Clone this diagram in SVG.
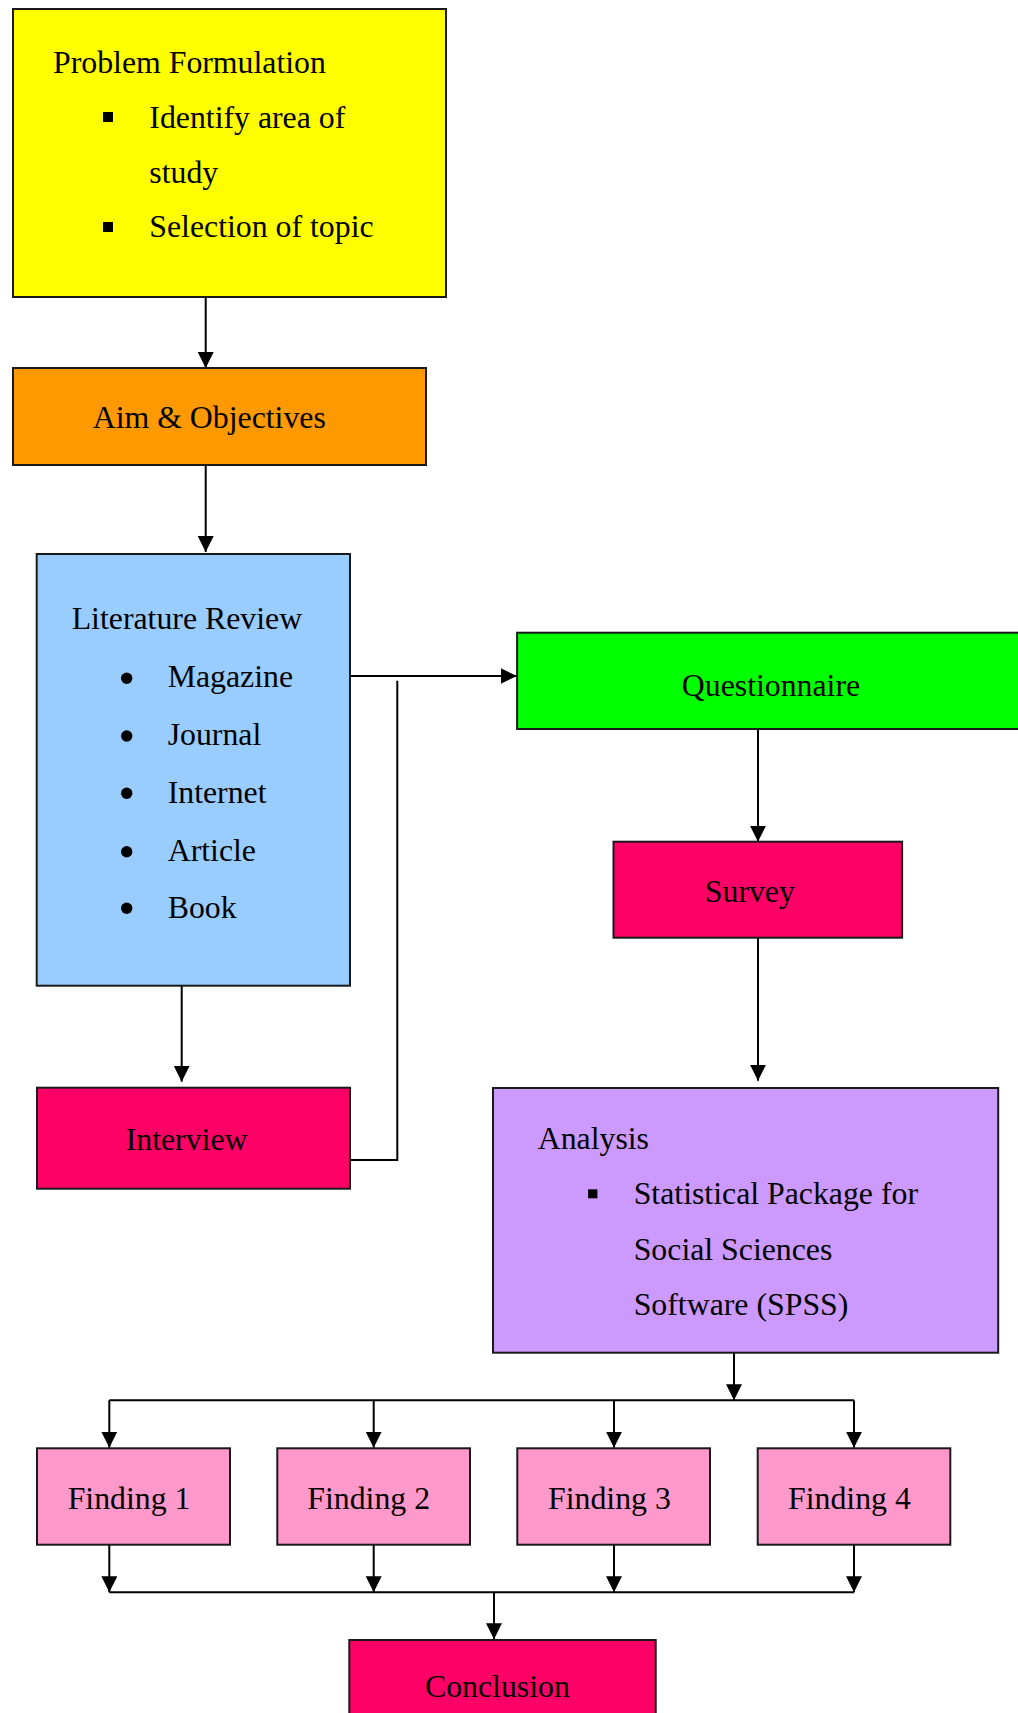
<svg xmlns="http://www.w3.org/2000/svg" width="1018" height="1713" viewBox="0 0 1018 1713">
<defs>
<style>
.box{stroke:#1a1a1a;stroke-width:2}
.t{font-family:"Liberation Serif","Times New Roman",serif;font-size:31.8px;fill:#000}
.c{fill:none;stroke:#000;stroke-width:2}
</style>
<marker id="ah" markerUnits="userSpaceOnUse" markerWidth="18" markerHeight="18" refX="16" refY="8" orient="auto">
<path d="M0,0 L16,8 L0,16 z" fill="#000"/>
</marker>
</defs>
<rect width="1018" height="1713" fill="#fff"/>

<g id="connectors">
<path class="c" d="M205.7,297 V368" marker-end="url(#ah)"/>
<path class="c" d="M205.7,465 V552" marker-end="url(#ah)"/>
<path class="c" d="M350,676 H516.7" marker-end="url(#ah)"/>
<path class="c" d="M350,1160 H397.3 V680.7"/>
<path class="c" d="M181.7,985.7 V1081.7" marker-end="url(#ah)"/>
<path class="c" d="M758,723.3 V841.7" marker-end="url(#ah)"/>
<path class="c" d="M758,937.7 V1080.7" marker-end="url(#ah)"/>
<path class="c" d="M734,1352.7 V1400.3" marker-end="url(#ah)"/>
<path class="c" d="M109.3,1400.3 H854"/>
<path class="c" d="M109.3,1400.3 V1447.7" marker-end="url(#ah)"/>
<path class="c" d="M373.7,1400.3 V1447.7" marker-end="url(#ah)"/>
<path class="c" d="M614,1400.3 V1447.7" marker-end="url(#ah)"/>
<path class="c" d="M854,1400.3 V1447.7" marker-end="url(#ah)"/>
<path class="c" d="M109.3,1544.7 V1592.3" marker-end="url(#ah)"/>
<path class="c" d="M373.7,1544.7 V1592.3" marker-end="url(#ah)"/>
<path class="c" d="M614,1544.7 V1592.3" marker-end="url(#ah)"/>
<path class="c" d="M854,1544.7 V1592.3" marker-end="url(#ah)"/>
<path class="c" d="M109.3,1592.3 H854"/>
<path class="c" d="M494,1592.3 V1639.3" marker-end="url(#ah)"/>
</g>

<g id="problem-formulation">
<rect class="box" x="13" y="9" width="433" height="288" fill="#ffff00"/>
<text class="t" x="53" y="72.7">Problem Formulation</text>
<rect x="103" y="112" width="10" height="10" fill="#000"/>
<text class="t" x="149.3" y="128">Identify area of</text>
<text class="t" x="149.3" y="182.7">study</text>
<rect x="103" y="222" width="10" height="10" fill="#000"/>
<text class="t" x="149.3" y="237">Selection of topic</text>
</g>

<g id="aim-objectives">
<rect class="box" x="13" y="368" width="413" height="97" fill="#ff9900"/>
<text class="t" x="92.7" y="428.3">Aim &amp; Objectives</text>
</g>

<g id="literature-review">
<rect class="box" x="36.7" y="554" width="313.3" height="431.7" fill="#99ccff"/>
<text class="t" x="71.7" y="629.3">Literature Review</text>
<circle cx="126.7" cy="678.3" r="5.7" fill="#000"/>
<text class="t" x="167.7" y="686.7">Magazine</text>
<circle cx="126.7" cy="736" r="5.7" fill="#000"/>
<text class="t" x="167.7" y="745">Journal</text>
<circle cx="126.7" cy="793.3" r="5.7" fill="#000"/>
<text class="t" x="167.7" y="803.3">Internet</text>
<circle cx="126.7" cy="851.7" r="5.7" fill="#000"/>
<text class="t" x="167.7" y="861">Article</text>
<circle cx="126.7" cy="908.3" r="5.7" fill="#000"/>
<text class="t" x="167.7" y="918.3">Book</text>
</g>

<g id="questionnaire">
<rect class="box" x="517.1" y="632.7" width="520" height="96.3" fill="#00ff00"/>
<text class="t" x="681.8" y="696">Questionnaire</text>
</g>

<g id="survey">
<rect class="box" x="613.5" y="841.7" width="288.6" height="96" fill="#ff0066"/>
<text class="t" x="704.8" y="901.7">Survey</text>
</g>

<g id="interview">
<rect class="box" x="37" y="1087.7" width="313" height="101" fill="#ff0066"/>
<text class="t" x="125.7" y="1150">Interview</text>
</g>

<g id="analysis">
<rect class="box" x="493" y="1088" width="505.2" height="264.7" fill="#cc99ff"/>
<text class="t" x="537.7" y="1149.3">Analysis</text>
<rect x="588.1" y="1189.3" width="9.3" height="9" fill="#000"/>
<text class="t" x="633.7" y="1204">Statistical Package for</text>
<text class="t" x="633.7" y="1260">Social Sciences</text>
<text class="t" x="633.7" y="1315">Software (SPSS)</text>
</g>

<g id="finding-1">
<rect class="box" x="37" y="1448.3" width="193" height="96.4" fill="#ff99cc"/>
<text class="t" x="67.7" y="1509.3">Finding 1</text>
</g>
<g id="finding-2">
<rect class="box" x="277.3" y="1448.3" width="192.7" height="96.4" fill="#ff99cc"/>
<text class="t" x="307.3" y="1509.3">Finding 2</text>
</g>
<g id="finding-3">
<rect class="box" x="517.3" y="1448.3" width="192.7" height="96.4" fill="#ff99cc"/>
<text class="t" x="548" y="1509.3">Finding 3</text>
</g>
<g id="finding-4">
<rect class="box" x="757.7" y="1448.3" width="192.6" height="96.4" fill="#ff99cc"/>
<text class="t" x="788" y="1509.3">Finding 4</text>
</g>

<g id="conclusion">
<rect class="box" x="349.3" y="1640" width="306.4" height="100" fill="#ff0066"/>
<text class="t" x="425" y="1696.7">Conclusion</text>
</g>
</svg>
